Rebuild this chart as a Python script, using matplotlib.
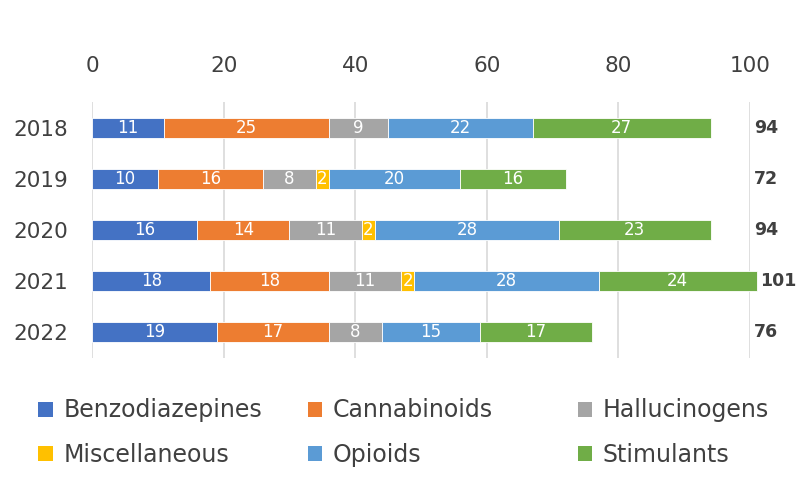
import matplotlib
matplotlib.use("Agg")
import matplotlib.pyplot as plt
from matplotlib.patches import Patch
import numpy as np

years = ["2018", "2019", "2020", "2021", "2022"]
categories = ["Benzodiazepines", "Cannabinoids", "Hallucinogens", "Miscellaneous", "Opioids", "Stimulants"]
benzodiazepines = [11, 10, 16, 18, 19]
cannabinoids = [25, 16, 14, 18, 17]
hallucinogens = [9, 8, 11, 11, 8]
miscellaneous = [0, 2, 2, 2, 0]
opioids = [22, 20, 28, 28, 15]
stimulants = [27, 16, 23, 24, 17]
totals = [94, 72, 94, 101, 76]
x_ticks = [0, 20, 40, 60, 80, 100]

series = [benzodiazepines, cannabinoids, hallucinogens, miscellaneous, opioids, stimulants]
colors = ["#4472C4", "#ED7D31", "#A5A5A5", "#FFC000", "#5B9BD5", "#70AD47"]
text_color = '#404040'

plt.rcParams['font.family'] = ['DejaVu Sans']
fig = plt.figure(figsize=(8, 4.87), dpi=100)
ax = fig.add_axes([0.115, 0.265, 0.8225, 0.525])

y = np.arange(len(years))
left = np.zeros(len(years))
for vals, col in zip(series, colors):
    vals = np.array(vals, dtype=float)
    ax.barh(y, vals, left=left, height=0.39, color=col, edgecolor='white',
            linewidth=0.6, zorder=3, clip_on=False)
    for yi, v, l in zip(y, vals, left):
        if v > 0:
            ax.text(l + v / 2, yi, f"{int(v)}", ha='center', va='center',
                    color='white', fontsize=12, zorder=4)
    left += vals

for yi, t in zip(y, totals):
    ax.text(max(t, 100) + 0.6, yi, str(t), ha='left', va='center',
            fontsize=12.5, fontweight='bold', color=text_color)

ax.set_xlim(0, 100)
ax.set_ylim(len(years) - 0.5, -0.5)
ax.set_yticks(y)
ax.set_yticklabels(years)
ax.set_xticks(x_ticks)
ax.xaxis.tick_top()
ax.tick_params(axis='x', length=0, pad=19, labelsize=15.5, labelcolor=text_color)
ax.tick_params(axis='y', length=0, pad=17, labelsize=15.5, labelcolor=text_color)
ax.grid(axis='x', color='#D9D9D9', linewidth=1.2, zorder=0)
for s in ax.spines.values():
    s.set_visible(False)

# legend laid out row-major in three fixed-width columns
col_x = [0.048, 0.385, 0.722]
for c in range(3):
    idx = [c, c + 3]
    handles = [Patch(facecolor=colors[i], edgecolor='none') for i in idx]
    labels = [categories[i] for i in idx]
    fig.legend(handles, labels, loc='lower left', bbox_to_anchor=(col_x[c], 0.042),
               ncol=1, frameon=False, fontsize=17, handlelength=0.6, handleheight=0.6,
               handletextpad=0.45, labelspacing=0.85, labelcolor=text_color,
               borderaxespad=0, borderpad=0)

fig.savefig("out.png", dpi=100)
